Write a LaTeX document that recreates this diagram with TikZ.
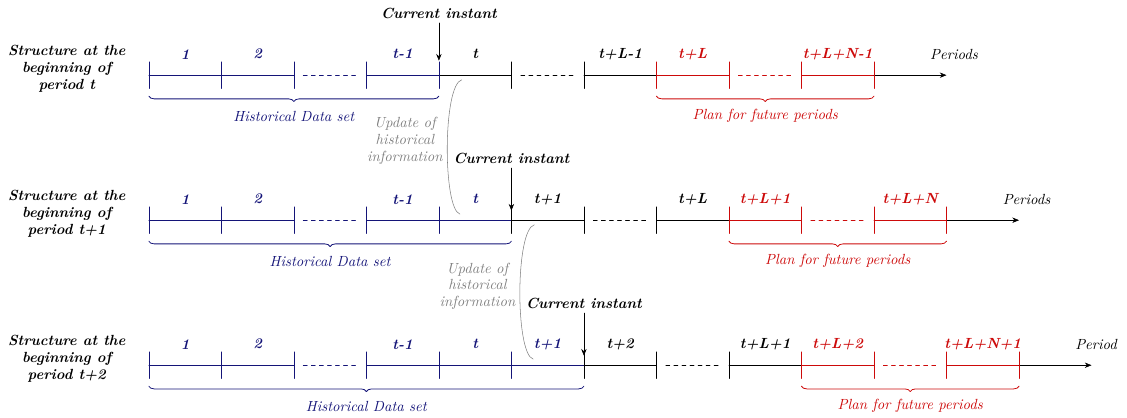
\documentclass[tikz,border=0pt]{standalone}
\usepackage{tikz}
\usetikzlibrary{decorations.pathreplacing}
\usetikzlibrary{arrows.meta}
\definecolor{histblue}{RGB}{20,20,120}
\definecolor{planred}{RGB}{205,10,10}
\newcommand{\figfont}{\fontsize{10.95}{12.6}\selectfont}

\begin{document}
\begin{tikzpicture}[line cap=round,line join=round,>={Stealth[length=5pt,width=4pt]},
  histc/.style={color=histblue},
  planc/.style={color=planred},
  rowlbl/.style={align=center,font=\figfont\bfseries\itshape},
  perlbl/.style={font=\figfont\bfseries\itshape},
  nowlbl/.style={font=\figfont\bfseries\itshape},
  setlbl/.style={font=\figfont\itshape},
  axlbl/.style={font=\figfont\itshape,anchor=west},
  updlbl/.style={align=center,font=\figfont\itshape,color=gray},
  brc/.style={decorate,decoration={brace,mirror,amplitude=4pt},line width=0.6pt},
  gapdash/.style={dashed,shorten <=7pt,shorten >=7pt}]
\useasboundingbox (0,0.02) rectangle (29.53,10.97);

% row 1 : beginning of period t
\node[rowlbl] (row1) at (1.75,9.16) {Structure at the\\beginning of\\period t};
\draw[histc] (3.9,9.0) -- (7.7,9.0);
\draw[histc,gapdash] (7.7,9.0) -- (9.6,9.0);
\draw[histc] (9.6,9.0) -- (11.5,9.0);
\draw (11.5,9.0) -- (13.4,9.0);
\draw[gapdash] (13.4,9.0) -- (15.3,9.0);
\draw (15.3,9.0) -- (17.2,9.0);
\draw[planc] (17.2,9.0) -- (19.1,9.0);
\draw[planc,gapdash] (19.1,9.0) -- (21.0,9.0);
\draw[planc] (21.0,9.0) -- (22.9,9.0);
\draw[->] (22.9,9.0) -- (24.8,9.0);
\draw[histc] (3.9,8.65) -- (3.9,9.35) (5.8,8.65) -- (5.8,9.35) (7.7,8.65) -- (7.7,9.35) (9.6,8.65) -- (9.6,9.35) (11.5,8.65) -- (11.5,9.35);
\draw (13.4,8.65) -- (13.4,9.35) (15.3,8.65) -- (15.3,9.35);
\draw[planc] (17.2,8.65) -- (17.2,9.35) (19.1,8.65) -- (19.1,9.35) (21.0,8.65) -- (21.0,9.35) (22.9,8.65) -- (22.9,9.35);
\node[perlbl,histc] (p1a) at (4.85,9.55) {1};
\node[perlbl,histc] (p1b) at (6.75,9.55) {2};
\node[perlbl,histc] (p1c) at (10.55,9.55) {t-1};
\node[perlbl] (p1d) at (12.45,9.55) {t};
\node[perlbl] (p1e) at (16.25,9.55) {t+L-1};
\node[perlbl,planc] (p1f) at (18.15,9.55) {t+L};
\node[perlbl,planc] (p1g) at (21.95,9.55) {t+L+N-1};
\node[axlbl] (ax1) at (24.25,9.55) {Periods};
\node[nowlbl] (now1) at (11.5,10.63) {Current instant};
\coordinate (tk1) at (11.5,9.38);
\draw[->] (now1) -- (tk1);
\draw[histc,brc] (3.9,8.45) -- (11.5,8.45);
\node[setlbl,histc] (hist1) at (7.7,7.93) {Historical Data set};
\draw[planc,brc] (17.2,8.45) -- (22.9,8.45);
\node[setlbl,planc] (plan1) at (20.05,7.93) {Plan for future periods};

% update 1 -> 2
\node[updlbl] (upd1) at (10.61,7.27) {Update of\\historical\\information};
\coordinate (u1a) at (12.1,8.88);
\coordinate (u1b) at (12.05,5.36);
\draw[gray] (u1a) .. controls (11.6,8.75) and (11.6,5.5) .. (u1b);

% row 2 : beginning of period t+1
\node[rowlbl] (row2) at (1.75,5.36) {Structure at the\\beginning of\\period t+1};
\draw[histc] (3.9,5.2) -- (7.7,5.2);
\draw[histc,gapdash] (7.7,5.2) -- (9.6,5.2);
\draw[histc] (9.6,5.2) -- (13.4,5.2);
\draw (13.4,5.2) -- (15.3,5.2);
\draw[gapdash] (15.3,5.2) -- (17.2,5.2);
\draw (17.2,5.2) -- (19.1,5.2);
\draw[planc] (19.1,5.2) -- (21.0,5.2);
\draw[planc,gapdash] (21.0,5.2) -- (22.9,5.2);
\draw[planc] (22.9,5.2) -- (24.8,5.2);
\draw[->] (24.8,5.2) -- (26.7,5.2);
\draw[histc] (3.9,4.85) -- (3.9,5.55) (5.8,4.85) -- (5.8,5.55) (7.7,4.85) -- (7.7,5.55) (9.6,4.85) -- (9.6,5.55) (11.5,4.85) -- (11.5,5.55);
\draw (13.4,4.85) -- (13.4,5.55) (15.3,4.85) -- (15.3,5.55) (17.2,4.85) -- (17.2,5.55);
\draw[planc] (19.1,4.85) -- (19.1,5.55) (21.0,4.85) -- (21.0,5.55) (22.9,4.85) -- (22.9,5.55) (24.8,4.85) -- (24.8,5.55);
\node[perlbl,histc] (p2a) at (4.85,5.75) {1};
\node[perlbl,histc] (p2b) at (6.75,5.75) {2};
\node[perlbl,histc] (p2c) at (10.55,5.75) {t-1};
\node[perlbl,histc] (p2d) at (12.45,5.75) {t};
\node[perlbl] (p2e) at (14.35,5.75) {t+1};
\node[perlbl] (p2f) at (18.15,5.75) {t+L};
\node[perlbl,planc] (p2g) at (20.05,5.75) {t+L+1};
\node[perlbl,planc] (p2h) at (23.85,5.75) {t+L+N};
\node[axlbl] (ax2) at (26.15,5.75) {Periods};
\node[nowlbl] (now2) at (13.4,6.83) {Current instant};
\coordinate (tk2) at (13.4,5.45);
\draw[->] (now2) -- (tk2);
\draw[histc,brc] (3.9,4.65) -- (13.4,4.65);
\node[setlbl,histc] (hist2) at (8.65,4.13) {Historical Data set};
\draw[planc,brc] (19.1,4.65) -- (24.8,4.65);
\node[setlbl,planc] (plan2) at (21.95,4.13) {Plan for future periods};

% update 2 -> 3
\node[updlbl] (upd2) at (12.51,3.47) {Update of\\historical\\information};
\coordinate (u2a) at (14.0,5.08);
\coordinate (u2b) at (13.97,1.56);
\draw[gray] (u2a) .. controls (13.5,4.95) and (13.5,1.7) .. (u2b);

% row 3 : beginning of period t+2
\node[rowlbl] (row3) at (1.75,1.56) {Structure at the\\beginning of\\period t+2};
\draw[histc] (3.9,1.4) -- (7.7,1.4);
\draw[histc,gapdash] (7.7,1.4) -- (9.6,1.4);
\draw[histc] (9.6,1.4) -- (15.3,1.4);
\draw (15.3,1.4) -- (17.2,1.4);
\draw[gapdash] (17.2,1.4) -- (19.1,1.4);
\draw (19.1,1.4) -- (21.0,1.4);
\draw[planc] (21.0,1.4) -- (22.9,1.4);
\draw[planc,gapdash] (22.9,1.4) -- (24.8,1.4);
\draw[planc] (24.8,1.4) -- (26.7,1.4);
\draw[->] (26.7,1.4) -- (28.6,1.4);
\draw[histc] (3.9,1.05) -- (3.9,1.75) (5.8,1.05) -- (5.8,1.75) (7.7,1.05) -- (7.7,1.75) (9.6,1.05) -- (9.6,1.75) (11.5,1.05) -- (11.5,1.75) (13.4,1.05) -- (13.4,1.75);
\draw (15.3,1.05) -- (15.3,1.75) (17.2,1.05) -- (17.2,1.75) (19.1,1.05) -- (19.1,1.75);
\draw[planc] (21.0,1.05) -- (21.0,1.75) (22.9,1.05) -- (22.9,1.75) (24.8,1.05) -- (24.8,1.75) (26.7,1.05) -- (26.7,1.75);
\node[perlbl,histc] (p3a) at (4.85,1.95) {1};
\node[perlbl,histc] (p3b) at (6.75,1.95) {2};
\node[perlbl,histc] (p3c) at (10.55,1.95) {t-1};
\node[perlbl,histc] (p3d) at (12.45,1.95) {t};
\node[perlbl,histc] (p3e) at (14.35,1.95) {t+1};
\node[perlbl] (p3f) at (16.25,1.95) {t+2};
\node[perlbl] (p3g) at (20.05,1.95) {t+L+1};
\node[perlbl,planc] (p3h) at (21.95,1.95) {t+L+2};
\node[perlbl,planc] (p3i) at (25.75,1.95) {t+L+N+1};
\node[axlbl] (ax3) at (28.05,1.95) {Period};
\node[nowlbl] (now3) at (15.3,3.03) {Current instant};
\coordinate (tk3) at (15.3,1.65);
\draw[->] (now3) -- (tk3);
\draw[histc,brc] (3.9,0.85) -- (15.3,0.85);
\node[setlbl,histc] (hist3) at (9.6,0.33) {Historical Data set};
\draw[planc,brc] (21.0,0.85) -- (26.7,0.85);
\node[setlbl,planc] (plan3) at (23.85,0.33) {Plan for future periods};
\end{tikzpicture}
\end{document}
